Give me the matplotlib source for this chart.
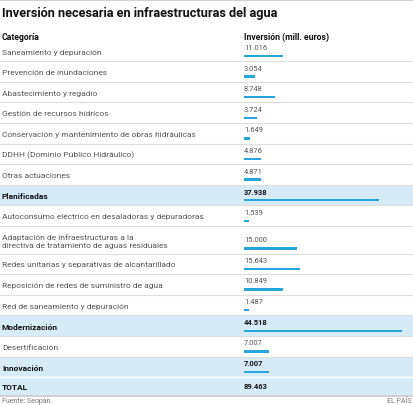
import matplotlib
matplotlib.use("Agg")
import matplotlib.pyplot as plt

title = "Inversión necesaria en infraestructuras del agua"
col_headers = ["Categoría", "Inversión (mill. euros)"]
categories = [
    "Saneamiento y depuración",
    "Prevención de inundaciones",
    "Abastecimiento y regadío",
    "Gestión de recursos hídricos",
    "Conservación y mantenimiento de obras hidráulicas",
    "DDHH (Dominio Público Hidráulico)",
    "Otras actuaciones",
    "Planificadas",
    "Autoconsumo eléctrico en desaladoras y depuradoras",
    "Adaptación de infraestructuras a la\ndirectiva de tratamiento de aguas residuales",
    "Redes unitarias y separativas de alcantarillado",
    "Reposición de redes de suministro de agua",
    "Red de saneamiento y depuración",
    "Modernización",
    "Desertificación",
    "Innovación",
    "TOTAL",
]
values = [11016, 3054, 8748, 3724, 1649, 4876, 4871, 37938,
          1539, 15000, 15643, 10849, 1487, 44518, 7007, 7007, 89463]
subtotal_rows = ["Planificadas", "Modernización", "Innovación", "TOTAL"]
no_bar_rows = ["TOTAL"]
source = "Fuente: Seopan."
brand = "EL PAÍS"

FONT = ["Roboto", "DejaVu Sans"]
W, H = 414, 406
fig = plt.figure(figsize=(W / 100, H / 100), dpi=100)
ax = fig.add_axes([0, 0, 1, 1])
ax.set_xlim(0, W)
ax.set_ylim(H, 0)
ax.axis("off")

bar_x0, bar_x1 = 244, 402.3
bx = fig.add_axes([bar_x0 / W, 0, (bar_x1 - bar_x0) / W, 1])
bx.set_xlim(0, max(v for c, v in zip(categories, values) if c not in no_bar_rows))
bx.set_ylim(H, 0)
bx.axis("off")
bx.patch.set_alpha(0)

renderer = fig.canvas.get_renderer()

def fit(t, target_w):
    w = t.get_window_extent(renderer).width
    t.set_fontsize(t.get_fontsize() * target_w / w)
    return t.get_fontsize()

BAND = "#d6eaf8"
BAR = "#27a5dd"
GRID = "#dddddd"
GREY = "#555555"
DARK = "#111111"

# top rule
ax.add_patch(plt.Rectangle((0, 0), W, 1.6, color="#d0d0d0", lw=0))

t = ax.text(2, 13.5, title, fontsize=10, fontweight="bold", family=FONT,
            color=DARK, va="center", ha="left")
fit(t, 278)

h1 = ax.text(2, 37.3, col_headers[0], fontsize=7, fontweight="bold",
             family=FONT, color=DARK, va="center")
hs = fit(h1, 38)
h2 = ax.text(bar_x0, 37.3, col_headers[1], fontsize=hs, fontweight="bold",
             family=FONT, color=DARK, va="center")

# row layout
heights = []
for c in categories:
    if "\n" in c:
        heights.append(27.5)
    elif c == "TOTAL":
        heights.append(17.5)
    else:
        heights.append(20.6)
tops = [41.6]
for h in heights[:-1]:
    tops.append(tops[-1] + h)

# font sizes
probe = ax.text(0, -50, "Conservación y mantenimiento de obras hidráulicas",
                fontsize=7, family=FONT)
cat_fs = fit(probe, 193)
probe.remove()
probe = ax.text(0, -50, "11.016", fontsize=7, family=FONT)
val_fs = fit(probe, 23)
probe.remove()

bar_y, bar_v = [], []
for c, v, top, h in zip(categories, values, tops, heights):
    bold = c in subtotal_rows
    bottom = top + h
    if bold:
        ax.add_patch(plt.Rectangle((0, top), W, h, color=BAND, lw=0, zorder=0))
    if c == "Innovación":
        ax.plot([0, W], [bottom, bottom], color="white", lw=1.0, zorder=1)
    elif c == "TOTAL":
        ax.add_patch(plt.Rectangle((0, bottom), W, 2.2, color="#d0d0d0", lw=0))
    else:
        ax.plot([0, W], [bottom, bottom], color=GRID, lw=0.8, zorder=1)
    col = DARK if bold else GREY
    fw = "bold" if bold else "normal"
    ax.text(2, top + h / 2 + 0.6, c, fontsize=cat_fs, family=FONT, color=col,
            fontweight=fw, va="center", ha="left", linespacing=1.45)
    label = f"{v:,}".replace(",", ".")
    if c in no_bar_rows:
        ax.text(bar_x0, top + h / 2 + 0.3, label, fontsize=val_fs, family=FONT,
                color=col, fontweight=fw, va="center", ha="left")
    else:
        by = bottom - 5.2
        ax.text(bar_x0, by - 8.5, label, fontsize=val_fs, family=FONT,
                color=col, fontweight=fw, va="center", ha="left")
        bar_y.append(by)
        bar_v.append(v)

bx.barh(bar_y, bar_v, height=2.4, left=0, color=BAR, lw=0)

s = ax.text(2, 401.5, source, fontsize=6, family=FONT, color="#777777",
            va="center", ha="left")
sf = fit(s, 51)
ax.text(412, 401.5, brand, fontsize=sf, family=FONT, color="#777777",
        va="center", ha="right")

fig.savefig("out.png", dpi=100)
